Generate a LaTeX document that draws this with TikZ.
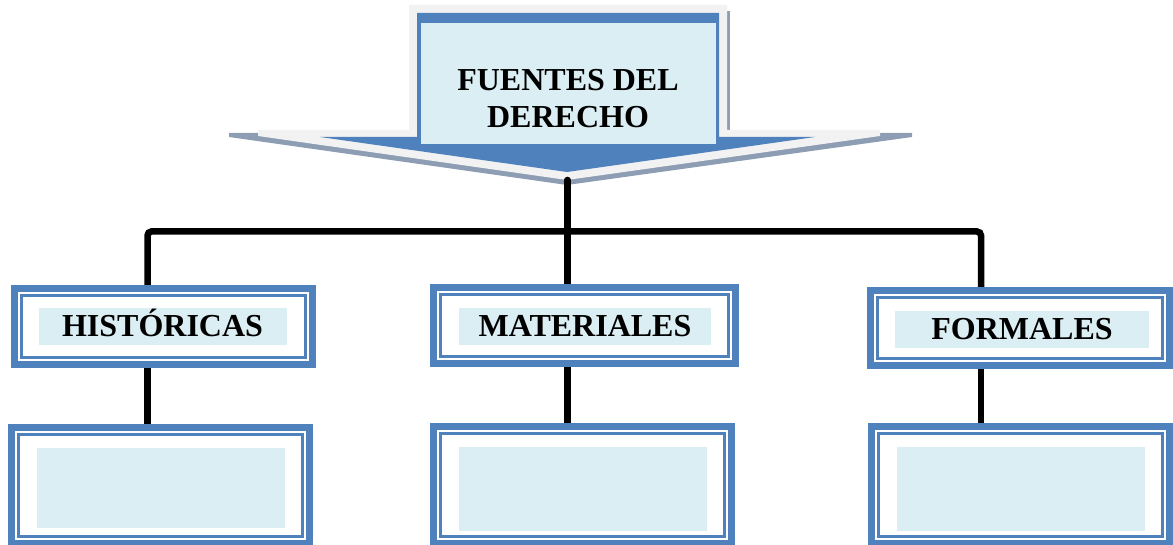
\documentclass[tikz,border=0pt]{standalone}
\usepackage{fontspec}
\setmainfont{Liberation Serif}
\usetikzlibrary{fit}
\definecolor{boxblue}{HTML}{4F81BD}
\definecolor{paleblue}{HTML}{DBEEF3}
\definecolor{wingwhite}{HTML}{F2F2F2}
\definecolor{winggray}{HTML}{8D9DB3}

\begin{document}
\begin{tikzpicture}[x=1pt, y=-1pt,
   outerbox/.style={
      draw=boxblue,
      fill=white,
      line width=7pt,
      inner sep=0pt,
      outer sep=3.5pt
   },
   innerline/.style={
      draw=boxblue,
      line width=2.5pt,
      inner sep=-10.5pt
   },
   labelbox/.style={
      fill=paleblue,
      inner sep=0pt,
      font=\bfseries\fontsize{32}{37}\selectfont,
      text height=21pt,
      text depth=0pt
   },
   conn/.style={
      draw=black,
      line width=6.5pt,
      rounded corners=4pt
   }]

   \useasboundingbox (0,0) rectangle (1173,545);

   \fill[winggray] (229,133) -- (912,133) -- (912,137) -- (567,185) -- (229,137) -- cycle;
   \fill[winggray] (727,11) rectangle (730,131);
   \fill[wingwhite] (409,5) -- (727,5) -- (727,130) -- (880,130) -- (880,136) -- (567,180)
      -- (258,136) -- (258,130) -- (409,130) -- cycle;
   \fill[boxblue] (417,13) -- (719,13) -- (719,137) -- (815,137) -- (567,172) -- (320,137)
      -- (417,137) -- cycle;
   \node[fill=paleblue, minimum width=295pt, minimum height=121pt, inner sep=0pt] (top) at (568.5,83.5) {};
   \node[align=center, inner sep=0pt, font=\bfseries\fontsize{32}{37}\selectfont] (title) at (568,99) {FUENTES DEL\\DERECHO};
   \coordinate (tip) at (567.5,180);

   \node[outerbox, minimum width=298pt, minimum height=76pt] (hist) at (163.5,326.5) {};
   \node[outerbox, minimum width=302pt, minimum height=76pt] (mat) at (584.5,325.5) {};
   \node[outerbox, minimum width=299pt, minimum height=75pt] (form) at (1020,328) {};
   \node[outerbox, minimum width=298pt, minimum height=116pt] (histb) at (160.5,485.5) {};
   \node[outerbox, minimum width=298pt, minimum height=117pt] (matb) at (582.5,485) {};
   \node[outerbox, minimum width=298pt, minimum height=117pt] (formb) at (1020.5,485) {};

   \foreach \n in {hist,mat,form,histb,matb,formb}
      \node[innerline, fit=(\n)] (\n-in) {};

   \node[labelbox, minimum width=248pt, minimum height=37pt] (histl) at (162.5,326.5) {HISTÓRICAS};
   \node[labelbox, minimum width=252pt, minimum height=37pt] (matl) at (585,326.5) {MATERIALES};
   \node[labelbox, minimum width=254pt, minimum height=37pt] (forml) at (1022,329.5) {FORMALES};
   \node[labelbox, minimum width=248pt, minimum height=80pt] (histbl) at (161,488) {};
   \node[labelbox, minimum width=248pt, minimum height=84pt] (matbl) at (583,489) {};
   \node[labelbox, minimum width=248pt, minimum height=84pt] (formbl) at (1021,489) {};

   \coordinate (jl) at (147.5,231.5);
   \coordinate (jm) at (567.5,231.5);
   \coordinate (jr) at (981,231.5);

   \draw[conn, line cap=round] (tip) -- (jm);
   \draw[conn] (hist.north -| jl) -- (jl) -- (jr) -- (form.north -| jr);
   \draw[conn] (jm) -- (mat.north -| jm);
   \foreach \a/\b/\j in {hist/histb/jl, mat/matb/jm, form/formb/jr}
      \draw[conn] (\a.south -| \j) -- (\b.north -| \j);

\end{tikzpicture}
\end{document}
